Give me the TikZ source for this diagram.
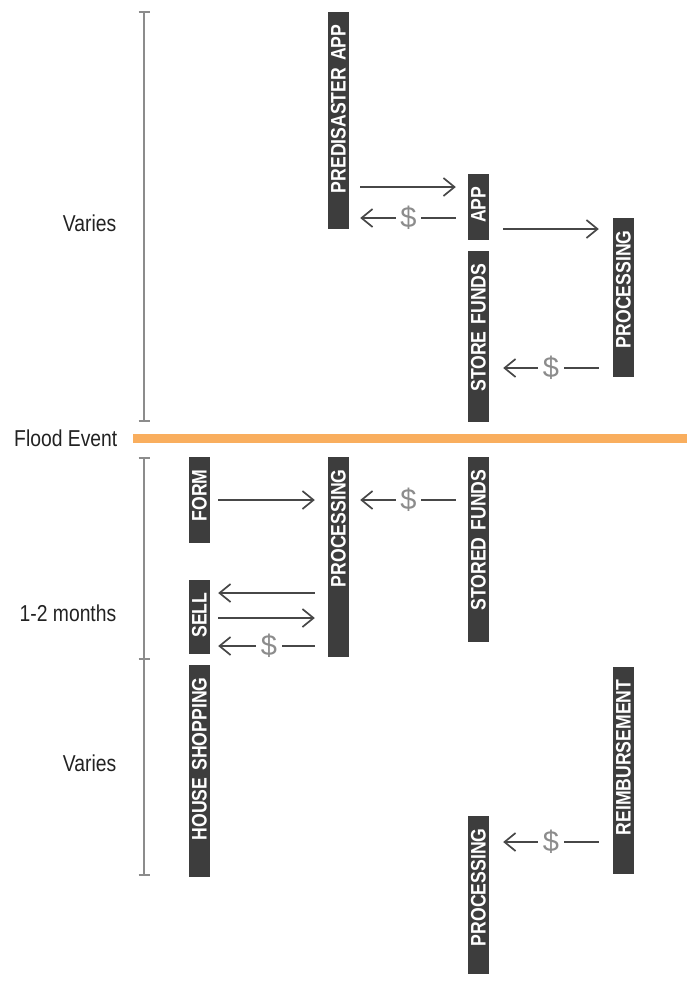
\documentclass[tikz,border=0pt]{standalone}
\usepackage{fontspec}
\setmainfont{Liberation Sans}
\newfontfamily\condfont[FakeStretch=0.84]{Liberation Sans}
\usetikzlibrary{arrows.meta}
\definecolor{barfill}{HTML}{3D3D3D}
\definecolor{arrowc}{HTML}{474747}
\definecolor{dollarc}{HTML}{8C8C8C}
\definecolor{bracketc}{HTML}{8C8C8C}
\definecolor{floodc}{HTML}{F9AE5E}
\definecolor{labelc}{HTML}{222222}
\tikzset{
  blk/.style={fill=barfill, text=white, rotate=90,
    font=\condfont\bfseries\fontsize{21pt}{21pt}\selectfont,
    inner xsep=12.5pt, inner ysep=0pt, minimum height=21pt,
    text width=#1, align=right},
  arr/.style={draw=arrowc, line width=1.7pt, -{Straight Barb[length=11pt,width=18pt]}},
  dollar/.style={font=\fontsize{29pt}{29pt}\selectfont, text=dollarc, fill=white,
    inner xsep=4.5pt, inner ysep=0pt},
  lbl/.style={font=\condfont\fontsize{23pt}{23pt}\selectfont, text=labelc,
    inner sep=0pt, anchor=east},
  brk/.style={draw=bracketc, line width=2.2pt}
}
\begin{document}
\begin{tikzpicture}[x=1pt,y=-1pt]
\useasboundingbox (0,0) rectangle (695,983);
% time brackets
\draw[brk] (144,12) -- (144,421);
\draw[brk] (138.5,12) -- (149.5,12);
\draw[brk] (138.5,421) -- (149.5,421);
\draw[brk] (144,458) -- (144,875);
\draw[brk] (138.5,458) -- (149.5,458);
\draw[brk] (138.5,659) -- (149.5,659);
\draw[brk] (138.5,875) -- (149.5,875);
% flood line
\fill[floodc] (133,433.5) rectangle (687,442.5);
% labels
\node[lbl] (varies1) at (116.5,223) {Varies};
\node[lbl] (flood) at (117.5,438) {Flood Event};
\node[lbl] (months) at (116.5,613) {1-2 months};
\node[lbl] (varies2) at (116.5,763) {Varies};
% boxes
\node[blk=192pt] (pre) at (338.5,120.5) {PREDISASTER APP};
\node[blk=41pt] (app) at (478.5,207) {APP};
\node[blk=146pt] (store) at (478.5,336.5) {STORE FUNDS};
\node[blk=134pt] (proc1) at (623.5,297.5) {PROCESSING};
\node[blk=61pt] (form) at (199.5,500) {FORM};
\node[blk=175pt] (proc2) at (338.5,557) {PROCESSING};
\node[blk=160pt] (stored) at (478.5,549.5) {STORED FUNDS};
\node[blk=49pt] (sell) at (199.5,617) {SELL};
\node[blk=187pt] (house) at (199.5,771) {HOUSE SHOPPING};
\node[blk=133pt] (proc3) at (478.5,895) {PROCESSING};
\node[blk=182pt] (reimb) at (623.5,770.5) {REIMBURSEMENT};
% connectors
\draw[arr, shorten <=11pt, shorten >=12pt] (pre.south |- 0,187) -- (app.north |- 0,187);
\draw[arr, shorten <=12pt, shorten >=11pt] (app.north |- 0,218) -- node[dollar]{\$} (pre.south |- 0,218);
\draw[arr, shorten <=14pt, shorten >=14pt] (app.south |- 0,229) -- (proc1.north |- 0,229);
\draw[arr, shorten <=14pt, shorten >=14pt] (proc1.north |- 0,368) -- node[dollar]{\$} (store.south |- 0,368);
\draw[arr, shorten <=8pt, shorten >=13pt] (form.south |- 0,500) -- (proc2.north |- 0,500);
\draw[arr, shorten <=12pt, shorten >=11pt] (stored.north |- 0,500) -- node[dollar]{\$} (proc2.south |- 0,500);
\draw[arr, shorten <=13pt, shorten >=8pt] (proc2.north |- 0,593) -- (sell.south |- 0,593);
\draw[arr, shorten <=8pt, shorten >=13pt] (sell.south |- 0,618) -- (proc2.north |- 0,618);
\draw[arr, shorten <=13pt, shorten >=8pt] (proc2.north |- 0,646) -- node[dollar]{\$} (sell.south |- 0,646);
\draw[arr, shorten <=14pt, shorten >=14pt] (reimb.north |- 0,842) -- node[dollar]{\$} (proc3.south |- 0,842);
\end{tikzpicture}
\end{document}
